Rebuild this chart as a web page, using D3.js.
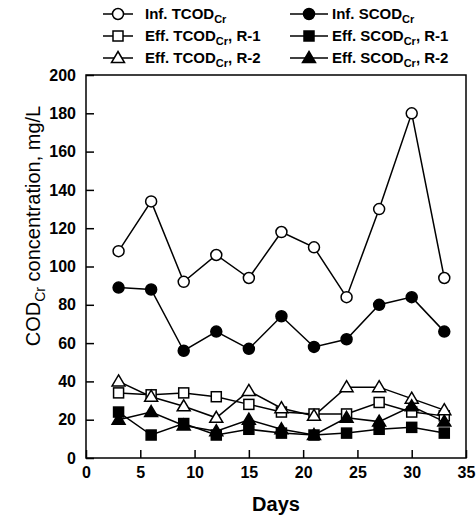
<!DOCTYPE html>
<html>
<head>
<meta charset="utf-8">
<script src="https://d3js.org/d3.v7.min.js"></script>
<style>
  html, body { margin: 0; padding: 0; background: #fff; }
  text { font-family: "Liberation Sans", Arial, sans-serif; fill: #000; }
</style>
</head>
<body>
<script>
// sampling days
const days = [3, 6, 9, 12, 15, 18, 21, 24, 27, 30, 33];

// COD values, mg/L
const infTCOD = [108, 134, 92, 106, 94, 118, 110, 84, 130, 180, 94];
const infSCOD = [89, 88, 56, 66, 57, 74, 58, 62, 80, 84, 66];
const effTCOD_R1 = [34, 33, 34, 32, 28, 24, 23, 23, 29, 24, 22];
const effTCOD_R2 = [40, 32, 27, 21, 35, 26, 22, 37, 37, 31, 25];
const effSCOD_R1 = [24, 12, 18, 12, 15, 13, 12, 13, 15, 16, 13];
const effSCOD_R2 = [20, 24, 17, 14, 20, 15, 12, 21, 19, 27, 19];

const xTicks = [0, 5, 10, 15, 20, 25, 30, 35];
const yTicks = [0, 20, 40, 60, 80, 100, 120, 140, 160, 180, 200];

const series = [
  { name: 'Inf. TCOD', tail: '', values: infTCOD, shape: 'circle', filled: false },
  { name: 'Inf. SCOD', tail: '', values: infSCOD, shape: 'circle', filled: true },
  { name: 'Eff. TCOD', tail: ', R-1', values: effTCOD_R1, shape: 'square', filled: false },
  { name: 'Eff. SCOD', tail: ', R-1', values: effSCOD_R1, shape: 'square', filled: true },
  { name: 'Eff. TCOD', tail: ', R-2', values: effTCOD_R2, shape: 'triangle', filled: false },
  { name: 'Eff. SCOD', tail: ', R-2', values: effSCOD_R2, shape: 'triangle', filled: true }
];

const W = 476, H = 523;
const m = { left: 86, right: 10, top: 75, bottom: 65 };

const svg = d3.select('body').append('svg')
  .attr('width', W).attr('height', H)
  .attr('viewBox', `0 0 ${W} ${H}`);
svg.append('rect').attr('width', W).attr('height', H).attr('fill', '#fff');

const x = d3.scaleLinear().domain([0, 35]).range([m.left, W - m.right]);
const y = d3.scaleLinear().domain([0, 200]).range([H - m.bottom, m.top]);

// frame
svg.append('rect')
  .attr('x', x(0)).attr('y', y(200))
  .attr('width', x(35) - x(0)).attr('height', y(0) - y(200))
  .attr('fill', 'none').attr('stroke', '#000').attr('stroke-width', 1.5);

// axes, ticks pointing inside
const xAxis = svg.append('g')
  .attr('transform', `translate(0,${y(0)})`)
  .call(d3.axisBottom(x).tickValues(xTicks).tickSizeInner(-8).tickSizeOuter(0).tickPadding(9));
const yAxis = svg.append('g')
  .attr('transform', `translate(${x(0)},0)`)
  .call(d3.axisLeft(y).tickValues(yTicks).tickSizeInner(-8).tickSizeOuter(0).tickPadding(10));

[xAxis, yAxis].forEach(a => {
  a.select('.domain').remove();
  a.selectAll('line').attr('stroke', '#000').attr('stroke-width', 1.5);
  a.selectAll('text')
    .style('font-family', '"Liberation Sans", Arial, sans-serif')
    .style('font-size', '16px').style('font-weight', 'bold');
});

// axis titles
svg.append('text')
  .attr('x', (x(0) + x(35)) / 2).attr('y', 511)
  .attr('text-anchor', 'middle')
  .style('font-size', '20px').style('font-weight', 'bold')
  .text('Days');

const yl = svg.append('text')
  .attr('transform', `translate(40,226) rotate(-90)`)
  .attr('text-anchor', 'middle')
  .style('font-size', '20px');
yl.append('tspan').text('COD');
yl.append('tspan').attr('dy', 5).style('font-size', '14px').text('Cr');
yl.append('tspan').attr('dy', -5).text(' concentration, mg/L');

// marker shapes
function drawMarker(g, shape, filled, cx, cy) {
  const fill = filled ? '#000' : '#fff';
  let el;
  if (shape === 'circle') {
    el = g.append('circle').attr('cx', cx).attr('cy', cy).attr('r', 5.5);
  } else if (shape === 'square') {
    el = g.append('rect').attr('x', cx - 5).attr('y', cy - 5).attr('width', 10).attr('height', 10);
  } else {
    el = g.append('path').attr('d', `M${cx},${cy - 6.5}L${cx + 6.5},${cy + 4.5}L${cx - 6.5},${cy + 4.5}Z`);
  }
  el.attr('fill', fill).attr('stroke', '#000').attr('stroke-width', 1.5);
}

const line = d3.line().x(d => x(d[0])).y(d => y(d[1]));

const plot = svg.append('g');
series.forEach(s => {
  const pts = days.map((d, i) => [d, s.values[i]]);
  plot.append('path').datum(pts)
    .attr('d', line)
    .attr('fill', 'none').attr('stroke', '#000').attr('stroke-width', 1.5);
});
series.forEach(s => {
  const g = plot.append('g');
  days.forEach((d, i) => drawMarker(g, s.shape, s.filled, x(d), y(s.values[i])));
});

// legend
const legend = svg.append('g');
const rowsY = [14, 36, 58];
const colX = [103, 290];
series.forEach((s, i) => {
  const col = i % 2, row = Math.floor(i / 2);
  const lx = colX[col], ly = rowsY[row];
  const g = legend.append('g');
  const len = col === 0 ? 30 : 38;
  g.append('line').attr('x1', lx).attr('x2', lx + len).attr('y1', ly).attr('y2', ly)
    .attr('stroke', '#000').attr('stroke-width', 1.5);
  drawMarker(g, s.shape, s.filled, lx + len / 2, ly);
  const t = g.append('text')
    .attr('x', lx + len + (col === 0 ? 12 : 4)).attr('y', ly + 5)
    .style('font-size', '15px').style('font-weight', 'bold');
  t.append('tspan').text(s.name);
  t.append('tspan').attr('dy', 4).style('font-size', '11px').text('Cr');
  if (s.tail) t.append('tspan').attr('dy', -4).text(s.tail);
});
</script>
</body>
</html>
